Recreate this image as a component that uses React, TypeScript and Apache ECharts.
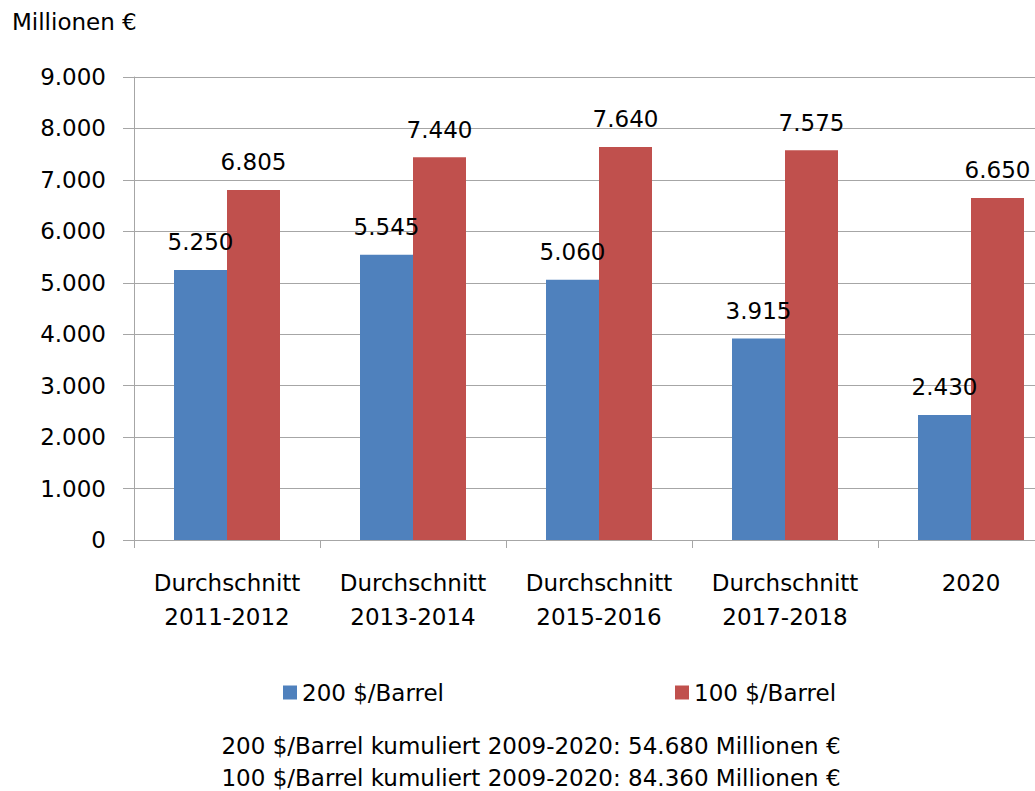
import React, { useEffect, useRef } from "react";
import * as echarts from "echarts";

const categories = ["Durchschnitt\n2011-2012", "Durchschnitt\n2013-2014", "Durchschnitt\n2015-2016", "Durchschnitt\n2017-2018", "2020"];
const series200 = [5250, 5545, 5060, 3915, 2430];
const series100 = [6805, 7440, 7640, 7575, 6650];
const seriesNames = ["200 $/Barrel", "100 $/Barrel"];
const footerLines = [
  "200 $/Barrel kumuliert 2009-2020: 54.680 Millionen €",
  "100 $/Barrel kumuliert 2009-2020: 84.360 Millionen €",
];
const unitLabel = "Millionen €";

const FONT = "DejaVu Sans";

function fmt(v: number): string {
  return String(Math.round(v)).replace(/\B(?=(\d{3})+(?!\d))/g, ".");
}

export default function App() {
  const ref = useRef<HTMLDivElement>(null);
  useEffect(() => {
    document.body.style.margin = "0";
    const chart = echarts.init(ref.current!, null, { renderer: "svg" });
    const labelCfg = {
      show: true,
      position: "top" as const,
      distance: 16,
      fontFamily: FONT,
      fontSize: 23,
      color: "#000",
      formatter: (p: any) => fmt(p.value),
    };
    chart.setOption({
      animation: false,
      backgroundColor: "#ffffff",
      textStyle: { fontFamily: FONT },
      grid: { left: 134, top: 77, width: 930, height: 463, containLabel: false, outerBoundsMode: "none" },
      legend: {
        left: 278,
        top: 676,
        itemWidth: 14,
        itemHeight: 14,
        itemGap: 231,
        icon: "rect",
        textStyle: { fontFamily: FONT, fontSize: 23, color: "#000" },
        data: seriesNames,
      },
      xAxis: {
        type: "category",
        data: categories,
        axisLine: { show: true, lineStyle: { color: "#a6a6a6", width: 1 } },
        axisTick: { show: true, interval: 0, length: 8, lineStyle: { color: "#a6a6a6" } },
        axisLabel: { interval: 0, hideOverlap: false, fontFamily: FONT, fontSize: 23, color: "#000", lineHeight: 34, margin: 26 },
      },
      yAxis: {
        type: "value",
        min: 0,
        max: 9000,
        interval: 1000,
        axisLine: { show: true, lineStyle: { color: "#a6a6a6", width: 1 } },
        axisTick: { show: true, length: 11, lineStyle: { color: "#a6a6a6" } },
        splitLine: { show: true, lineStyle: { color: "#a6a6a6", width: 1 } },
        axisLabel: { fontFamily: FONT, fontSize: 23, color: "#000", margin: 28, formatter: (v: number) => fmt(v) },
      },
      series: [
        {
          name: seriesNames[0],
          type: "bar",
          data: series200,
          barWidth: 53,
          barGap: "0%",
          itemStyle: { color: "#4F81BD" },
          label: labelCfg,
        },
        {
          name: seriesNames[1],
          type: "bar",
          data: series100,
          barWidth: 53,
          barGap: "0%",
          itemStyle: { color: "#C0504D" },
          label: labelCfg,
        },
      ],
      graphic: [
        {
          type: "text",
          left: 12,
          top: 10,
          style: { text: unitLabel, fontFamily: FONT, fontSize: 23, fill: "#000" },
        },
        {
          type: "text",
          x: 531,
          y: 746,
          style: { text: footerLines[0], fontFamily: FONT, fontSize: 23, fill: "#000", align: "center", verticalAlign: "middle" },
        },
        {
          type: "text",
          x: 531,
          y: 778,
          style: { text: footerLines[1], fontFamily: FONT, fontSize: 23, fill: "#000", align: "center", verticalAlign: "middle" },
        },
      ],
    });
    return () => chart.dispose();
  }, []);
  return <div ref={ref} style={{ position: "fixed", left: 0, top: 0, width: 1035, height: 791 }} />;
}
